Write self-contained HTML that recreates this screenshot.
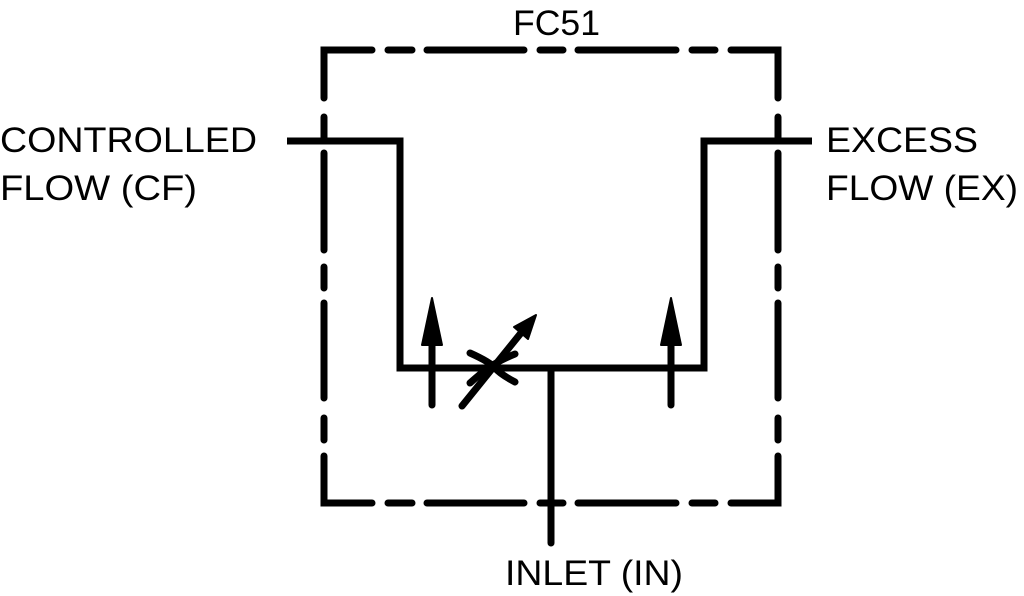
<!DOCTYPE html>
<html><head><meta charset="utf-8"><style>
html,body{margin:0;padding:0;background:#fff;}
svg{display:block;}
text{font-family:"Liberation Sans",Arial,sans-serif;font-size:35px;fill:#000;}
</style></head><body>
<svg width="1024" height="596" viewBox="0 0 1024 596" xmlns="http://www.w3.org/2000/svg">
<g stroke="#000" stroke-width="7" stroke-linecap="round" fill="none">
<path d="M324 98 V50 H372"/>
<path d="M388 50 H412 M427 50 H524 M540 50 H563 M578 50 H676 M692 50 H715"/>
<path d="M731 50 H778 V98"/>
<path d="M324 456 V503 H372"/>
<path d="M388 503 H412 M427 503 H524 M540 503 H563 M578 503 H676 M692 503 H715"/>
<path d="M731 503 H778 V456"/>
<path d="M324 117 V138 M324 153 V250 M324 267 V288 M324 303 V398 M324 418 V440"/>
<path d="M778 117 V138 M778 153 V250 M778 267 V288 M778 303 V398 M778 418 V440"/>
<path d="M287 141 H400 V368 H704 V141 H812" stroke-linecap="butt"/>
<path d="M551 368 V543"/>
<path d="M432 405 V340 M671 405 V340"/>
<path d="M462 406 L525 328"/>
<path d="M470 353 Q490 362 495 368 Q500 374 515 382"/>
<path d="M470 383 Q480 374 488 368 Q500 360 515 354"/>
</g>
<g fill="#000" stroke="#000" stroke-width="2" stroke-linejoin="round">
<path d="M432 298 L442 345 L422 345 Z"/>
<path d="M671 298 L681 345 L661 345 Z"/>
<path d="M536 315 L528 339 L514 327 Z"/>
</g>
<text x="513" y="35" textLength="87" lengthAdjust="spacingAndGlyphs">FC51</text>
<text x="0" y="152" textLength="257" lengthAdjust="spacingAndGlyphs">CONTROLLED</text>
<text x="0" y="200" textLength="197" lengthAdjust="spacingAndGlyphs">FLOW (CF)</text>
<text x="826" y="152" textLength="152" lengthAdjust="spacingAndGlyphs">EXCESS</text>
<text x="826" y="200" textLength="192" lengthAdjust="spacingAndGlyphs">FLOW (EX)</text>
<text x="505" y="585" textLength="178" lengthAdjust="spacingAndGlyphs">INLET (IN)</text>
</svg>
</body></html>
